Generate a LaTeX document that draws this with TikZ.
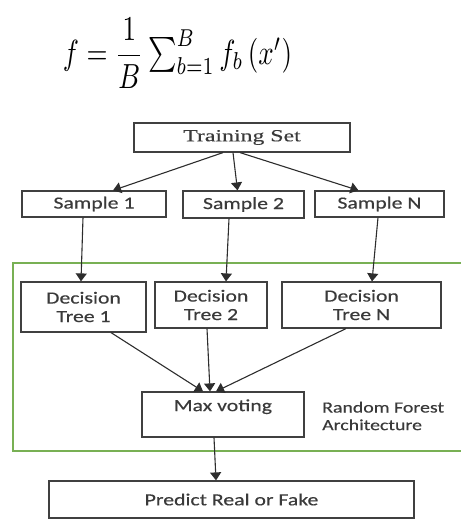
\documentclass[tikz,border=0pt]{standalone}
\usepackage{amsmath,amssymb}
\usepackage{graphicx}
\usepackage{xcolor}
\usepackage{fontspec}
\usepackage{tikz}
\usetikzlibrary{positioning,calc,arrows.meta}

\newfontfamily\boxfont[FakeStretch=1.28,FakeBold=0.4]{Carlito}
\newfontfamily\setfont[FakeStretch=1.4,FakeBold=0.3]{Liberation Serif}

\definecolor{boxgray}{RGB}{64,64,64}
\definecolor{textgray}{RGB}{58,58,58}
\definecolor{linegray}{RGB}{45,45,45}
\definecolor{forestgreen}{RGB}{120,176,84}

\tikzset{
    box/.style={draw=boxgray, line width=1.2pt, inner sep=0pt, text=textgray, align=center,
        font=\boxfont\fontsize{17}{18.5}\selectfont},
    arr/.style={draw=linegray, line width=1.1pt, -{Triangle[width=11pt,length=8pt]}},
    frame/.style={draw=forestgreen, line width=1.6pt}
}

\begin{document}
\begin{tikzpicture}[x=1pt, y=-1pt]
    \useasboundingbox (0,0) rectangle (461,520);

    % Averaging formula
    \node [inner sep=0pt] (formula) at (177.5,53)
        {\resizebox*{229pt}{70pt}{$\displaystyle f=\frac{1}{B}\textstyle\sum_{b=1}^{B} f_b\left(x'\right)$}};

    % Random forest frame (runs off the right edge)
    \draw [frame] (462,263) -- (13,263) -- (13,451) -- (462,451);

    % Training set and samples
    \node [box, minimum width=216pt, minimum height=29pt, font=\setfont\fontsize{17}{18.5}\selectfont]
        (train) at (242,137.5) {Training Set};
    \node [box, minimum width=144pt, minimum height=26pt] (s1) at (94,204) {Sample 1};
    \node [box, minimum width=121pt, minimum height=27pt] (s2) at (243.5,204.5) {Sample 2};
    \node [box, minimum width=129pt, minimum height=26pt] (sN) at (379.5,204) {Sample N};

    % Trees
    \node [box, minimum width=125pt, minimum height=50pt] (t1) at (83.5,307) {Decision\\Tree 1};
    \node [box, minimum width=112pt, minimum height=46pt] (t2) at (211,305) {Decision\\Tree 2};
    \node [box, minimum width=159pt, minimum height=46pt] (tN) at (361.5,305) {Decision\\Tree N};

    % Voting and output
    \node [box, minimum width=162pt, minimum height=45pt] (vote) at (223,414.5) {Max voting\\\mbox{}};
    \node [anchor=west, align=left, inner sep=0pt, text=textgray,
        font=\boxfont\fontsize{15.5}{17.6}\selectfont] (rflabel) at (322,416)
        {Random Forest\\Architecture};
    \node [box, minimum width=365pt, minimum height=37pt] (predict) at (231.5,499.5) {Predict Real or Fake};

    % Arrows
    \draw [arr] ([xshift=-19pt]train.south) -- ([xshift=19pt]s1.north);
    \draw [arr] ([xshift=-9pt]train.south) -- ([xshift=-6pt]s2.north);
    \draw [arr] ([xshift=-2pt]train.south) -- ([xshift=-21pt]sN.north);

    \draw [arr] ([xshift=-11pt]s1.south) -- ([xshift=-2.5pt]t1.north);
    \draw [arr] ([xshift=-14.5pt]s2.south) -- ([xshift=15pt]t2.north);
    \draw [arr] ([xshift=-1.5pt]sN.south) -- ([xshift=10.5pt]tN.north);

    \draw [arr] ([xshift=27.5pt]t1.south) -- ([xshift=-20pt]vote.north);
    \draw [arr] ([xshift=-4pt]t2.south) -- ([xshift=-13pt]vote.north);
    \draw [arr] ([xshift=-15.5pt]tN.south) -- ([xshift=-7pt]vote.north);

    \draw [arr] ([xshift=-9pt]vote.south) -- ([xshift=-15.5pt]predict.north);
\end{tikzpicture}
\end{document}
